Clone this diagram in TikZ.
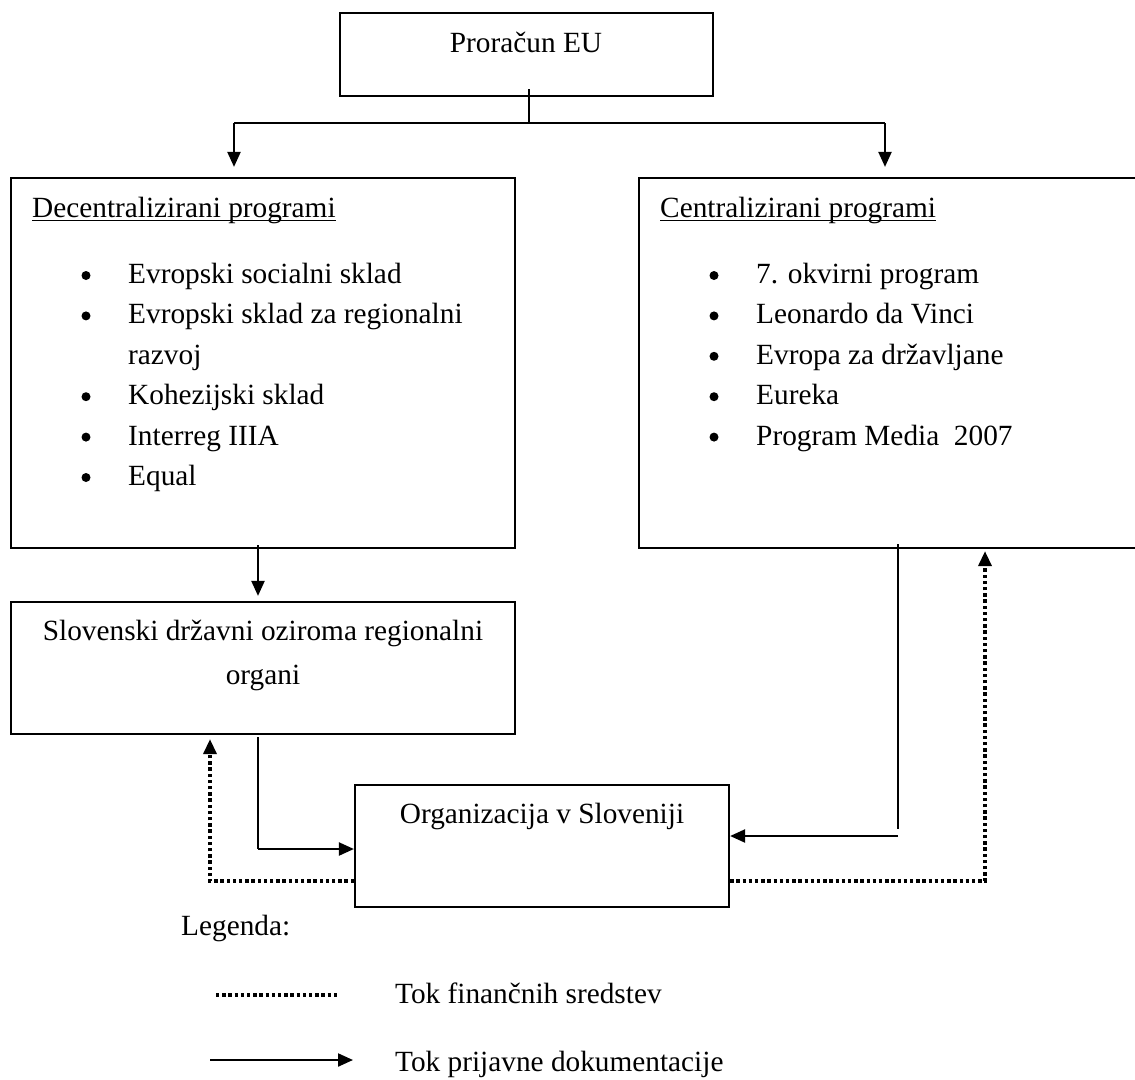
\documentclass[tikz,border=0pt]{standalone}
\usepackage{fontspec}
\setmainfont{Liberation Serif}
\usetikzlibrary{arrows.meta}
\begin{document}
\begin{tikzpicture}[x=1pt,y=-1pt,
  box/.style={draw, line width=2.2pt, rectangle, inner sep=0pt},
  txt/.style={font=\fontsize{29.3}{35}\selectfont, inner sep=0pt},
  bul/.style={circle, fill=black, inner sep=0pt, minimum size=9pt},
  conn/.style={line width=2.2pt},
  thinline/.style={line width=1.4pt},
  money/.style={line width=3.4pt, dash pattern=on 3.4pt off 2.8pt},
  tip/.style={-{Triangle[length=15pt,width=13pt]}}
]
\useasboundingbox (0,0) rectangle (1135,1079);

% boxes
\node[box, minimum width=373pt, minimum height=83pt] (eu) at (526.5,54.5) {};
\node[box, minimum width=504pt, minimum height=370pt] (dec) at (263,363) {};
\node[box, minimum width=511pt, minimum height=370pt] (cen) at (894.5,363) {};
\node[box, minimum width=504pt, minimum height=132pt] (slo) at (263,668) {};
\node[box, minimum width=374pt, minimum height=122pt] (org) at (542,846) {};

% texts
\node[txt, anchor=base] (eutxt) at (526,52) {Proračun EU};

\node[txt, anchor=base west] (dtitle) at (32,217) {Decentralizirani programi};
\draw[line width=1.5pt] ([yshift=-3.5pt]dtitle.base west) -- ([yshift=-3.5pt]dtitle.base east);
\node[txt, anchor=base west] (ctitle) at (660,217) {Centralizirani programi};
\draw[line width=1.5pt] ([yshift=-3.5pt]ctitle.base west) -- ([yshift=-3.5pt]ctitle.base east);

\node[bul] (db1) at (86,275.5) {};
\node[txt, anchor=base west] (d1) at (128,283.5) {Evropski socialni sklad};
\node[bul] (db2) at (86,315.9) {};
\node[txt, anchor=base west] (d2) at (128,323.9) {Evropski sklad za regionalni};
\node[txt, anchor=base west] (d2b) at (128,364.3) {razvoj};
\node[bul] (db3) at (86,396.7) {};
\node[txt, anchor=base west] (d3) at (128,404.7) {Kohezijski sklad};
\node[bul] (db4) at (86,437.1) {};
\node[txt, anchor=base west] (d4) at (128,445.1) {Interreg IIIA};
\node[bul] (db5) at (86,477.5) {};
\node[txt, anchor=base west] (d5) at (128,485.5) {Equal};

\node[bul] (cb1) at (714,275.5) {};
\node[txt, anchor=base west] (c1) at (756,283.5) {7. okvirni program};
\node[bul] (cb2) at (714,315.9) {};
\node[txt, anchor=base west] (c2) at (756,323.9) {Leonardo da Vinci};
\node[bul] (cb3) at (714,356.3) {};
\node[txt, anchor=base west] (c3) at (756,364.3) {Evropa za državljane};
\node[bul] (cb4) at (714,396.7) {};
\node[txt, anchor=base west] (c4) at (756,404.7) {Eureka};
\node[bul] (cb5) at (714,437.1) {};
\node[txt, anchor=base west] (c5) at (756,445.1) {Program Media\ \ 2007};

\node[txt, anchor=base] (slo1) at (263,640) {Slovenski državni oziroma regionalni};
\node[txt, anchor=base] (slo2) at (263,684) {organi};

\node[txt, anchor=base] (orgtxt) at (542,823) {Organizacija v Sloveniji};

% connectors from EU
\coordinate (j) at (529,123);
\coordinate (jl) at (234,123);
\coordinate (jr) at (885,123);
\draw[thinline] ([yshift=8pt]eu.south -| j) -- (j);
\draw[conn] (jl) -- (jr);
\draw[conn,tip] (jl) -- ([yshift=10pt]jl |- dec.north);
\draw[conn,tip] (jr) -- ([yshift=10pt]jr |- cen.north);

% dec -> slo
\coordinate (ds) at (258,545);
\draw[conn,tip] (ds) -- ([yshift=5pt]ds |- slo.north);

% slo -> org
\coordinate (so1) at (258,737);
\coordinate (so2) at (258,849);
\draw[thinline] (so1) -- (so2);
\draw[conn,tip] (so2) -- (so2 -| org.west);

% cen -> org
\coordinate (co1) at (898,544);
\coordinate (co2) at (898,829);
\coordinate (co3) at (898,836);
\draw[thinline] (co1) -- (co2);
\draw[conn,tip] (co3) -- (co3 -| org.east);

% money flows
\coordinate (ml) at (210,881);
\coordinate (mr) at (985,881);
\draw[money,tip] (ml -| org.west) -- (ml) -- ([yshift=-4pt]ml |- slo.south);
\draw[money,tip] (mr -| org.east) -- (mr) -- ([yshift=-2pt]mr |- cen.south);

% legend
\node[txt, anchor=base west] (leg) at (181,935) {Legenda:};
\coordinate (lm1) at (216,995);
\coordinate (lm2) at (339,995);
\draw[money] (lm1) -- (lm2);
\node[txt, anchor=base west] (legm) at (395,1003) {Tok finančnih sredstev};
\coordinate (la1) at (210,1060);
\coordinate (la2) at (353,1060);
\draw[conn,tip] (la1) -- (la2);
\node[txt, anchor=base west] (lega) at (395,1071) {Tok prijavne dokumentacije};
\end{tikzpicture}
\end{document}
